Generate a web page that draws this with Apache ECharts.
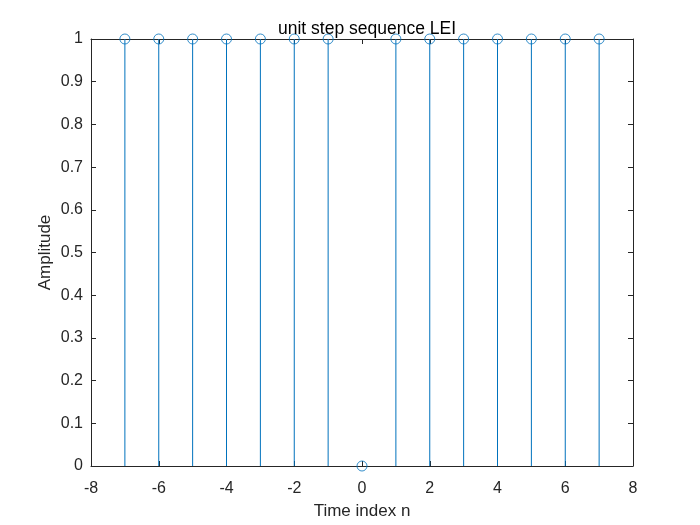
<!DOCTYPE html>
<html>
<head>
<meta charset="utf-8">
<script src="https://cdn.jsdelivr.net/npm/echarts@6/dist/echarts.min.js"></script>
<style>
  body { margin: 0; background: #fff; }
  #chart { width: 700px; height: 525px; }
</style>
</head>
<body>
<div id="chart"></div>
<script>
// stem data
const nValues = [-7, -6, -5, -4, -3, -2, -1, 0, 1, 2, 3, 4, 5, 6, 7];
const amplitudes = [1, 1, 1, 1, 1, 1, 1, 0, 1, 1, 1, 1, 1, 1, 1];
const xTicks = [-8, -6, -4, -2, 0, 2, 4, 6, 8];
const yTicks = [0, 0.1, 0.2, 0.3, 0.4, 0.5, 0.6, 0.7, 0.8, 0.9, 1];

const points = nValues.map((n, i) => [n, amplitudes[i]]);
const stemColor = "#0072BD";
const axisColor = "#262626";
const font = "Liberation Sans, Arial, sans-serif";

const chart = echarts.init(document.getElementById("chart"));

const tickAxis = (extra) => Object.assign({
  type: "value",
  axisLine: { show: true, onZero: false, lineStyle: { color: axisColor, width: 1 } },
  axisTick: { show: true, inside: true, length: 5, lineStyle: { color: axisColor } },
  splitLine: { show: false }
}, extra);

chart.setOption({
  animation: false,
  title: {
    text: "unit step sequence LEI",
    left: 362,
    textAlign: "center",
    top: 15,
    textStyle: { fontFamily: font, fontSize: 17.5, fontWeight: "normal", color: "#000" }
  },
  grid: { left: 91, right: 67, top: 39, bottom: 59 },
  xAxis: [
    tickAxis({
      min: xTicks[0], max: xTicks[xTicks.length - 1], interval: 2,
      position: "bottom",
      name: "Time index n", nameLocation: "middle", nameGap: 37,
      nameMoveOverlap: false,
      nameTextStyle: { fontFamily: font, fontSize: 17, color: axisColor },
      axisLabel: { fontFamily: font, fontSize: 16, color: axisColor, margin: 15 }
    }),
    tickAxis({
      min: xTicks[0], max: xTicks[xTicks.length - 1], interval: 2,
      position: "top", axisLabel: { show: false }
    })
  ],
  yAxis: [
    tickAxis({
      min: yTicks[0], max: yTicks[yTicks.length - 1], interval: 0.1,
      position: "left",
      name: "Amplitude", nameLocation: "middle", nameGap: 37,
      nameMoveOverlap: false,
      nameTextStyle: { fontFamily: font, fontSize: 17, color: axisColor },
      axisLabel: { fontFamily: font, fontSize: 16, color: axisColor, margin: 8,
        formatter: v => String(Math.round(v * 10) / 10) }
    }),
    tickAxis({
      min: yTicks[0], max: yTicks[yTicks.length - 1], interval: 0.1,
      position: "right", axisLabel: { show: false }
    })
  ],
  series: [
    {
      type: "custom",
      data: points,
      renderItem: function (params, api) {
        const top = api.coord([api.value(0), api.value(1)]);
        const base = api.coord([api.value(0), 0]);
        return {
          type: "line",
          shape: { x1: top[0], y1: top[1], x2: base[0], y2: base[1] },
          style: { stroke: stemColor, lineWidth: 1 }
        };
      },
      z: 2
    },
    {
      type: "scatter",
      data: points,
      symbol: "circle",
      symbolSize: 10,
      itemStyle: { color: "rgba(0,0,0,0)", borderColor: stemColor, borderWidth: 1 },
      z: 3
    }
  ]
});
</script>
</body>
</html>
